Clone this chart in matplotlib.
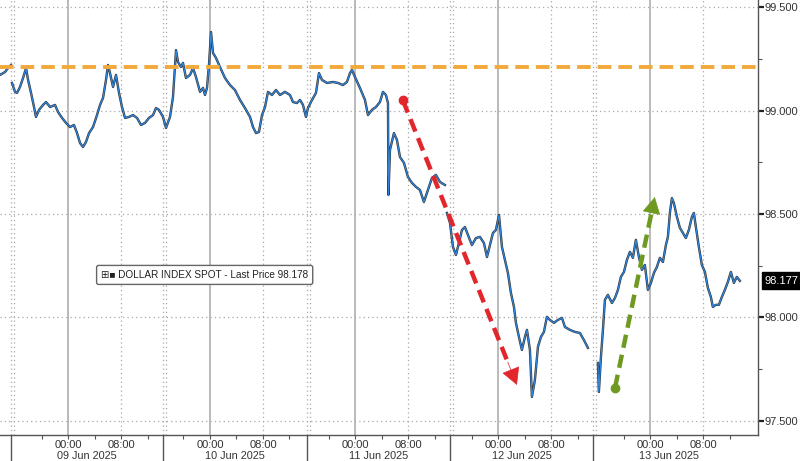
import numpy as np
import matplotlib
matplotlib.use("Agg")
import matplotlib.pyplot as plt
from matplotlib.transforms import blended_transform_factory

plt.rcParams['font.family'] = ['Liberation Sans Narrow', 'Liberation Sans', 'DejaVu Sans']

# x axis is "chart hours": 0 = 09 Jun 00:00, the dead hours between sessions are squeezed out
day_labels = ["09 Jun 2025", "10 Jun 2025", "11 Jun 2025", "12 Jun 2025", "13 Jun 2025"]
day_midnight = [0.0, 21.4, 43.3, 64.9, 87.8]
session_start = [-8.6, 14.3, 36.0, 57.6, 79.2]
session_end = [14.3, 36.0, 57.6, 79.2, 102.2]

# DOLLAR INDEX SPOT, one pair of lists per unbroken stretch
t_pre = [-10.26, -9.50, -9.05, -8.60]
p_pre = [99.172, 99.186, 99.205, 99.220]

t_main = [-8.45, -7.99, -7.69, -7.24, -6.79, -6.33, -6.03, -5.58, -5.13, -4.83, -4.37, -3.77, -3.32,
          -2.71, -1.96, -1.51, -0.90, -0.30, 0.30, 0.90, 1.36, 1.81, 2.26, 2.71, 3.17, 3.77, 4.37,
          4.83, 5.28, 5.73, 6.03, 6.33, 6.79, 7.24, 7.69, 8.14, 8.60, 9.20, 9.80, 10.41, 11.01,
          11.61, 12.21, 12.82, 13.27, 13.72, 14.33, 14.78, 15.38, 15.83, 16.29, 16.59, 17.04,
          17.34, 17.79, 18.40, 18.85, 19.30, 19.91, 20.36, 20.66, 20.96, 21.26, 21.57, 21.87,
          22.32, 22.92, 23.68, 24.43, 25.18, 25.94, 26.69, 27.45, 27.90, 28.35, 28.80, 29.26,
          29.71, 30.16, 30.76, 31.37, 31.97, 32.72, 33.48, 33.93, 34.53, 34.99, 35.44, 35.89,
          36.19, 36.80, 37.40, 37.85, 38.30, 39.06, 39.96, 40.72, 41.47, 42.07, 42.53, 42.83,
          43.28, 44.03, 44.79, 45.24, 45.84, 46.45, 47.05, 47.50, 47.95, 48.26, 48.33, 48.56,
          49.16, 49.61, 50.07, 50.67, 51.27, 51.88, 52.48, 53.08, 53.68, 54.29, 54.89, 55.49,
          56.10, 56.85]
p_main = [99.133, 99.090, 99.085, 99.114, 99.157, 99.205, 99.148, 99.085, 99.017, 98.969, 99.003,
          99.027, 99.041, 99.017, 99.027, 98.993, 98.964, 98.940, 98.920, 98.930, 98.891, 98.843,
          98.824, 98.848, 98.891, 98.920, 98.978, 99.027, 99.061, 99.148, 99.220, 99.181, 99.114,
          99.172, 99.085, 99.017, 98.964, 98.969, 98.978, 98.964, 98.930, 98.940, 98.964, 98.978,
          99.012, 99.003, 98.969, 98.916, 98.969, 99.065, 99.292, 99.234, 99.210, 99.230, 99.157,
          99.172, 99.205, 99.162, 99.090, 99.109, 99.075, 99.109, 99.220, 99.379, 99.278, 99.254,
          99.210, 99.157, 99.123, 99.099, 99.051, 99.012, 98.969, 98.920, 98.891, 98.896, 98.978,
          99.017, 99.090, 99.075, 99.099, 99.075, 99.090, 99.075, 99.041, 99.036, 99.051, 99.027,
          98.969, 99.012, 99.051, 99.085, 99.181, 99.148, 99.133, 99.138, 99.133, 99.123, 99.138,
          99.181, 99.196, 99.162, 99.109, 99.051, 98.978, 99.003, 99.017, 99.041, 99.090, 99.075,
          99.036, 98.592, 98.809, 98.891, 98.858, 98.775, 98.747, 98.679, 98.650, 98.631, 98.616,
          98.558, 98.616, 98.674, 98.689, 98.655, 98.640]

t_jun12 = [57.15, 57.61, 58.06, 58.51, 58.96, 59.42, 59.87, 60.32, 60.92, 61.53, 62.13, 62.73,
           63.19, 63.64, 64.09, 64.54, 65.00, 65.45, 65.90, 66.35, 66.80, 67.26, 67.56, 68.01,
           68.46, 68.92, 69.22, 69.67, 69.97, 70.42, 70.88, 71.33, 71.78, 72.23, 72.69, 73.29,
           73.89, 74.50, 74.95, 75.70, 76.46, 77.21, 77.81, 78.42]
p_jun12 = [98.505, 98.457, 98.341, 98.302, 98.360, 98.423, 98.437, 98.399, 98.350, 98.384, 98.389,
           98.360, 98.292, 98.350, 98.408, 98.423, 98.495, 98.341, 98.278, 98.215, 98.119, 98.051,
           97.974, 97.906, 97.843, 97.906, 97.940, 97.843, 97.616, 97.698, 97.858, 97.906, 97.930,
           98.003, 97.988, 97.974, 97.988, 97.998, 97.954, 97.940, 97.930, 97.925, 97.891, 97.853]

t_jun13 = [79.92, 80.07, 80.38, 80.68, 80.98, 81.43, 82.04, 82.49, 82.94, 83.39, 83.85, 84.30,
           84.75, 85.20, 85.65, 86.11, 86.56, 87.01, 87.46, 87.92, 88.37, 88.82, 89.27, 89.73,
           90.18, 90.48, 90.78, 91.08, 91.38, 91.84, 92.29, 92.74, 93.19, 93.64, 94.10, 94.40,
           94.70, 95.15, 95.60, 96.06, 96.51, 96.96, 97.26, 97.72, 98.17, 98.62, 99.07, 99.53,
           99.98, 100.43, 100.88, 101.33]
p_jun13 = [97.780, 97.640, 97.809, 97.940, 98.085, 98.109, 98.070, 98.094, 98.133, 98.196, 98.220,
           98.278, 98.317, 98.288, 98.375, 98.292, 98.230, 98.254, 98.133, 98.167, 98.215, 98.244,
           98.288, 98.268, 98.350, 98.389, 98.505, 98.577, 98.553, 98.486, 98.433, 98.408, 98.384,
           98.423, 98.486, 98.505, 98.437, 98.341, 98.254, 98.220, 98.143, 98.099, 98.051, 98.061,
           98.061, 98.099, 98.133, 98.172, 98.220, 98.167, 98.196, 98.177]

last_price = 98.177
legend_price = 98.178
resistance = 99.21
red_from, red_to = (50.5, 99.05), (67.7, 97.674)
green_from, green_to = (82.5, 97.66), (88.5, 98.582)

y_ticks = [97.5, 98.0, 98.5, 99.0, 99.5]

# join the stretches with NaN so the feed gaps stay open
t_all = t_pre + [np.nan] + t_main + [np.nan] + t_jun12 + [np.nan] + t_jun13
p_all = p_pre + [np.nan] + p_main + [np.nan] + p_jun12 + [np.nan] + p_jun13

fig = plt.figure(figsize=(8.0, 4.61), dpi=100)
ax = fig.add_axes([0.0, 0.0564, 0.9475, 0.9436])
ax.set_xlim(-10.26, 104.07)
ax.set_ylim(97.432, 99.534)

grid_col = "#a8a8a8"
for y in y_ticks:
    ax.axhline(y, color=grid_col, lw=0.9, ls=(0, (1, 2.5)), zorder=1)
for d in day_midnight:
    ax.axvline(d, color="#b4b4b4", lw=1.3, zorder=1)
    ax.axvline(d + 8, color=grid_col, lw=0.9, ls=(0, (1, 2.5)), zorder=1)
for s in session_start:
    ax.axvline(s, color=grid_col, lw=0.9, ls=(0, (1, 2.5)), zorder=1)
    ax.axvline(s + 0.45, color=grid_col, lw=0.9, ls=(0, (1, 2.5)), zorder=1)

# price line: dark under-stroke + blue close line like the terminal draws it
ax.plot(t_all, p_all, color="#1c1c1c", lw=1.7, alpha=0.9, zorder=3)
ax.plot(t_all, p_all, color="#2e86de", lw=0.9, zorder=4)

# resistance line
ax.axhline(resistance, color="#f2a93b", lw=2.8, dashes=(3.5, 1.8), zorder=5)

# trend arrows
def dashed_arrow(p0, p1, col):
    x0, y0 = p0
    x1, y1 = p1
    # stop the shaft a little short so the head sits on the end point
    xs = x0 + (x1 - x0) * 0.92
    ys = y0 + (y1 - y0) * 0.92
    ax.plot([x0, xs], [y0, ys], color=col, lw=3.2, dashes=(3, 1.6), zorder=6, solid_capstyle="butt")
    ax.plot([x0], [y0], "o", color=col, ms=6, zorder=6)
    ax.annotate("", xy=p1, xytext=(xs, ys),
                arrowprops=dict(arrowstyle="-|>,head_width=0.6,head_length=1.1",
                                color=col, lw=0.5, shrinkA=0, shrinkB=0), zorder=6)

dashed_arrow(red_from, red_to, "#e3262b")
dashed_arrow(green_from, green_to, "#6f9a22")

# spines / axes
for side in ["left", "top"]:
    ax.spines[side].set_visible(False)
ax.spines["right"].set_color("#555555")
ax.spines["bottom"].set_color("#555555")
ax.spines["right"].set_linewidth(1.0)
ax.spines["bottom"].set_linewidth(1.0)

ax.yaxis.tick_right()
ax.set_yticks(y_ticks)
ax.set_yticklabels([f"{v:.3f}" for v in y_ticks])
ax.set_yticks([97.75, 98.25, 98.75, 99.25], minor=True)
ax.tick_params(axis="y", which="major", direction="out", length=4, width=1.6, color="#222222",
               labelsize=8, labelcolor="#333333", pad=1)
ax.tick_params(axis="y", which="minor", direction="out", length=3, width=0.8, color="#555555")

xt = []
xl = []
for d in day_midnight:
    xt += [d, d + 8]
    xl += ["00:00", "08:00"]
ax.set_xticks(xt)
ax.set_xticklabels(xl)
minor_x = []
for d, s0, s1 in zip(day_midnight, session_start, session_end):
    for k in [-8, -4, 4, 12, 16]:
        if s0 + 1 < d + k < s1 - 1:
            minor_x.append(d + k)
ax.set_xticks(minor_x, minor=True)
ax.tick_params(axis="x", which="major", direction="out", length=3, width=0.8, color="#555555",
               labelsize=8, labelcolor="#333333", pad=0.5)
ax.tick_params(axis="x", which="minor", direction="out", length=3, width=0.8, color="#555555")

trans = blended_transform_factory(ax.transData, ax.transAxes)
for s in session_start:
    ax.plot([s, s], [0, -0.07], color="#555555", lw=1.0, transform=trans, clip_on=False)
for lab, s0, s1 in zip(day_labels, session_start, session_end):
    ax.annotate(lab, xy=((s0 + s1) / 2, 0), xycoords=trans, xytext=(0, -11.5),
                textcoords="offset points", ha="center", va="top", fontsize=7.8, color="#333333")

# last price tag on the right axis
ax.annotate(f"{last_price:.3f}", xy=(1.0, last_price), xycoords=("axes fraction", "data"),
            xytext=(5, 0), textcoords="offset points", ha="left", va="center",
            fontsize=8, color="white", annotation_clip=False,
            bbox=dict(boxstyle="square,pad=0.3", fc="black", ec="black"))

# legend box
ax.text(0.27, 0.368, f"\u229e\u25a0 DOLLAR INDEX SPOT - Last Price {legend_price:.3f}",
        transform=ax.transAxes, ha="center", va="center", fontsize=7.2, color="#222222",
        family=['Liberation Sans Narrow', 'Liberation Sans', 'DejaVu Sans'],
        bbox=dict(boxstyle="round,pad=0.45,rounding_size=0.2", fc="white", ec="#666666", lw=1.0),
        zorder=7)

fig.savefig("out.png", dpi=100, facecolor="white")
